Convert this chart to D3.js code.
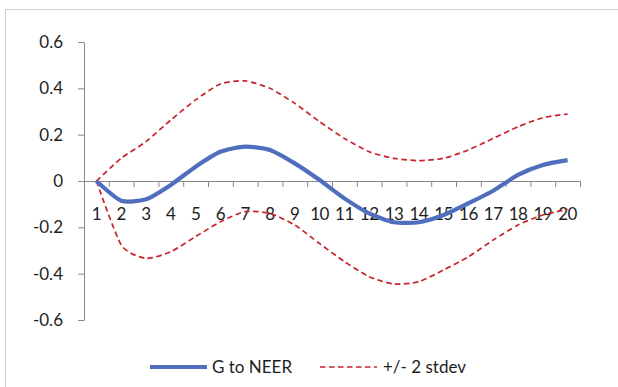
<!DOCTYPE html>
<html>
<head>
<meta charset="utf-8">
<script src="https://cdn.jsdelivr.net/npm/d3@7"></script>
<style>
  body { margin: 0; background: #fff; overflow: hidden; }
  svg text { font-family: Lato, "Open Sans", sans-serif; fill: #1e1e1e; }
</style>
</head>
<body>
<div id="chart"></div>
<script>
const periods = d3.range(1, 21);
const gToNeer = [0, -0.085, -0.079, -0.017, 0.062, 0.126, 0.148, 0.134, 0.076, 0.004,
  -0.075, -0.14, -0.178, -0.178, -0.147, -0.096, -0.042, 0.026, 0.069, 0.09];
const upperBand = [0, 0.098, 0.17, 0.263, 0.35, 0.419, 0.432, 0.40, 0.335, 0.256,
  0.184, 0.126, 0.098, 0.088, 0.098, 0.134, 0.184, 0.234, 0.273, 0.289];
const lowerBand = [0, -0.276, -0.334, -0.305, -0.24, -0.176, -0.132, -0.14, -0.19, -0.27,
  -0.348, -0.413, -0.445, -0.435, -0.384, -0.327, -0.255, -0.19, -0.147, -0.122];
const yTicks = [-0.6, -0.4, -0.2, 0, 0.2, 0.4, 0.6];
const legendLabels = ["G to NEER", "+/- 2 stdev"];

const width = 618, height = 387;
const blue = "#4f6fbe", red = "#c8232c", axisColor = "#8a8a8a";

const svg = d3.select("#chart").append("svg")
  .attr("width", width)
  .attr("height", height);

// chart frame: only the top and left edges are inside the picture
svg.append("path")
  .attr("d", `M5.5,${height}V9.5H${width}`)
  .attr("fill", "none")
  .attr("stroke", "#d0d0d0");

const x = d3.scaleBand().domain(periods).range([84, 580]);
const xEdges = d3.scaleLinear().domain([0, 20]).range([84, 580]);
const y = d3.scaleLinear().domain([-0.6, 0.6]).range([320, 42]);

const fmt = v => v === 0 ? "0" : d3.format(".1f")(v).replace("−", "-");

// y axis
const yAxis = svg.append("g")
  .attr("transform", "translate(84,0)")
  .call(d3.axisLeft(y).tickValues(yTicks).tickFormat(fmt).tickSize(6).tickSizeOuter(0));
yAxis.selectAll("text").attr("font-size", 17).attr("x", -21);

// x axis tick marks at category boundaries
svg.append("g")
  .attr("transform", `translate(0,${y(0)})`)
  .call(d3.axisBottom(xEdges).ticks(20).tickFormat("").tickSize(6).tickSizeOuter(0));

// x axis labels at category centres
const xLabels = svg.append("g")
  .attr("transform", `translate(0,${y(0)})`)
  .call(d3.axisBottom(x).tickSize(0).tickSizeOuter(0));
xLabels.select(".domain").remove();
xLabels.selectAll("text")
  .attr("font-size", 17)
  .attr("letter-spacing", -0.5)
  .attr("y", 27)
  .attr("dy", "0.71em");

svg.selectAll(".domain, .tick line").attr("stroke", axisColor);

const line = d3.line()
  .x((d, i) => x(periods[i]) + x.bandwidth() / 2)
  .y(d => y(d))
  .curve(d3.curveCardinal.tension(0.35));

[upperBand, lowerBand].forEach(band => {
  svg.append("path")
    .datum(band)
    .attr("d", line)
    .attr("fill", "none")
    .attr("stroke", red)
    .attr("stroke-width", 1.7)
    .attr("stroke-dasharray", "5.5,3.5");
});

svg.append("path")
  .datum(gToNeer)
  .attr("d", line)
  .attr("fill", "none")
  .attr("stroke", blue)
  .attr("stroke-width", 4.2)
  .attr("stroke-linejoin", "round");

// legend
const legend = svg.append("g").attr("transform", "translate(0,367)");
legend.append("line")
  .attr("x1", 150).attr("x2", 207)
  .attr("stroke", blue).attr("stroke-width", 4.2);
legend.append("text")
  .attr("x", 212).attr("dy", "0.35em")
  .attr("font-size", 17)
  .text(legendLabels[0]);
legend.append("line")
  .attr("x1", 320).attr("x2", 377)
  .attr("stroke", red).attr("stroke-width", 1.7)
  .attr("stroke-dasharray", "5.5,3.5");
legend.append("text")
  .attr("x", 383).attr("dy", "0.35em")
  .attr("font-size", 17)
  .text(legendLabels[1]);
</script>
</body>
</html>
